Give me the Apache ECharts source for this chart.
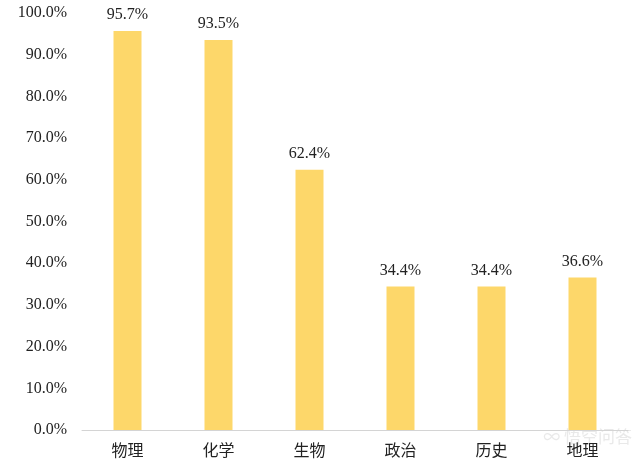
<!DOCTYPE html>
<html lang="zh">
<head>
<meta charset="UTF-8">
<title>chart</title>
<script src="https://cdn.jsdelivr.net/npm/echarts@6/dist/echarts.min.js"></script>
<style>
  html, body { margin: 0; padding: 0; background: #fff; }
  #container { width: 640px; height: 465px; }
</style>
</head>
<body>
<div id="container"></div>
<script>
// 科目
const subjects = ['物理', '化学', '生物', '政治', '历史', '地理']
// 选考比例 (%)
const ratios = [95.7, 93.5, 62.4, 34.4, 34.4, 36.6]

const chart = echarts.init(document.getElementById('container'))
chart.setOption({
  animation: false,
  grid: { left: 82, right: 12, top: 13, bottom: 35 },
  xAxis: {
    type: 'category',
    data: subjects,
    axisLine: { lineStyle: { color: '#d4d4d4', width: 1 } },
    axisTick: { show: false },
    axisLabel: {
      color: '#222',
      fontSize: 16,
      fontFamily: 'Noto Sans CJK SC',
      margin: 12
    }
  },
  yAxis: {
    type: 'value',
    min: 0,
    max: 100,
    interval: 10,
    axisLine: { show: false },
    axisTick: { show: false },
    splitLine: { show: false },
    axisLabel: {
      color: '#222',
      fontSize: 16,
      fontFamily: 'Liberation Serif',
      margin: 15,
      formatter: v => v.toFixed(1) + '%'
    }
  },
  series: [{
    type: 'bar',
    data: ratios,
    barWidth: 28,
    itemStyle: { color: '#FDD76A' },
    label: {
      show: true,
      position: 'top',
      distance: 8,
      color: '#222',
      fontSize: 16,
      fontFamily: 'Liberation Serif',
      formatter: p => p.value.toFixed(1) + '%'
    }
  }],
  graphic: [{
    type: 'text',
    right: 8,
    bottom: 20,
    style: {
      text: '∞ 悟空问答',
      fontSize: 17,
      fontFamily: 'Noto Sans CJK SC',
      fill: 'rgba(225,225,225,0.75)'
    }
  }]
})
</script>
</body>
</html>
